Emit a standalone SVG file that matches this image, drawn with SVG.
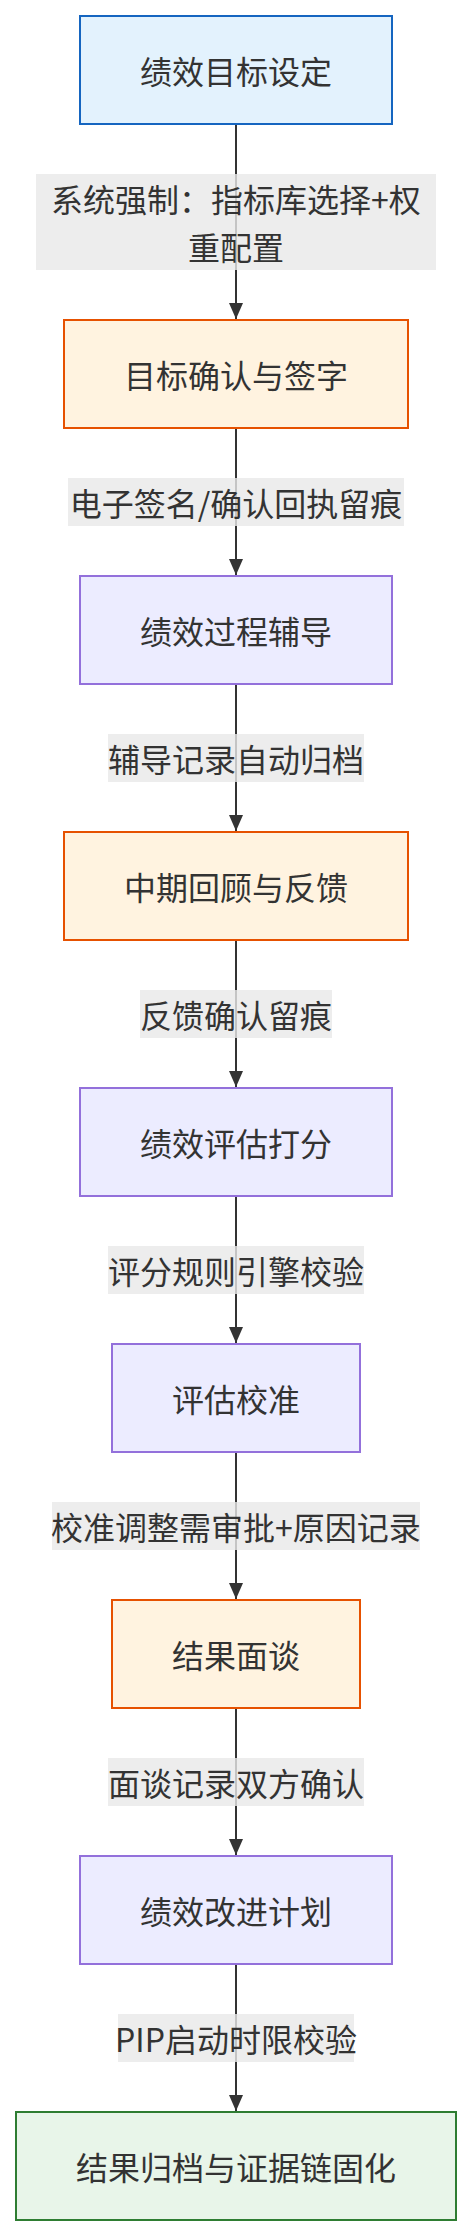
<svg xmlns="http://www.w3.org/2000/svg" width="472" height="2236" viewBox="0 0 472 2236">
<style>
text{font-family:"Noto Sans CJK SC","Liberation Sans",sans-serif;font-size:32px;fill:#333;text-anchor:middle;dominant-baseline:central}
.blue{fill:#e3f2fd;stroke:#1565c0;stroke-width:2}
.orange{fill:#fff3e0;stroke:#e65100;stroke-width:2}
.purple{fill:#ececff;stroke:#9370db;stroke-width:2}
.green{fill:#e8f5e9;stroke:#2e7d32;stroke-width:2}
.edge{stroke:#333;stroke-width:2;fill:none}
.lbl{fill:#e8e8e8;fill-opacity:0.8}
</style>
<defs>
<marker id="arr" viewBox="0 0 16 14" refX="16" refY="7" markerWidth="16" markerHeight="14" markerUnits="userSpaceOnUse" orient="auto">
<path d="M0,0 L16,7 L0,14 z" fill="#333"/>
</marker>
</defs>
<g id="connectors">
<path class="edge" d="M236,124 V319" marker-end="url(#arr)"/>
<path class="edge" d="M236,428 V575" marker-end="url(#arr)"/>
<path class="edge" d="M236,684 V831" marker-end="url(#arr)"/>
<path class="edge" d="M236,940 V1087" marker-end="url(#arr)"/>
<path class="edge" d="M236,1196 V1343" marker-end="url(#arr)"/>
<path class="edge" d="M236,1452 V1599" marker-end="url(#arr)"/>
<path class="edge" d="M236,1708 V1855" marker-end="url(#arr)"/>
<path class="edge" d="M236,1964 V2111" marker-end="url(#arr)"/>
<rect class="lbl" x="36" y="174" width="400" height="96"/>
<text x="236" y="198">系统强制：指标库选择+权</text>
<text x="236" y="246">重配置</text>
<rect class="lbl" x="68" y="478" width="336" height="48"/>
<text x="236" y="502">电子签名/确认回执留痕</text>
<rect class="lbl" x="108" y="734" width="256" height="48"/>
<text x="236" y="758">辅导记录自动归档</text>
<rect class="lbl" x="140" y="990" width="192" height="48"/>
<text x="236" y="1014">反馈确认留痕</text>
<rect class="lbl" x="108" y="1246" width="256" height="48"/>
<text x="236" y="1270">评分规则引擎校验</text>
<rect class="lbl" x="52" y="1502" width="368" height="48"/>
<text x="236" y="1526">校准调整需审批+原因记录</text>
<rect class="lbl" x="108" y="1758" width="256" height="48"/>
<text x="236" y="1782">面谈记录双方确认</text>
<rect class="lbl" x="118" y="2014" width="236" height="48"/>
<text x="236" y="2038">PIP启动时限校验</text>
</g>
<g id="n1"><rect class="blue" x="80" y="16" width="312" height="108"/><text x="236" y="70">绩效目标设定</text></g>
<g id="n2"><rect class="orange" x="64" y="320" width="344" height="108"/><text x="236" y="374">目标确认与签字</text></g>
<g id="n3"><rect class="purple" x="80" y="576" width="312" height="108"/><text x="236" y="630">绩效过程辅导</text></g>
<g id="n4"><rect class="orange" x="64" y="832" width="344" height="108"/><text x="236" y="886">中期回顾与反馈</text></g>
<g id="n5"><rect class="purple" x="80" y="1088" width="312" height="108"/><text x="236" y="1142">绩效评估打分</text></g>
<g id="n6"><rect class="purple" x="112" y="1344" width="248" height="108"/><text x="236" y="1398">评估校准</text></g>
<g id="n7"><rect class="orange" x="112" y="1600" width="248" height="108"/><text x="236" y="1654">结果面谈</text></g>
<g id="n8"><rect class="purple" x="80" y="1856" width="312" height="108"/><text x="236" y="1910">绩效改进计划</text></g>
<g id="n9"><rect class="green" x="16" y="2112" width="440" height="108"/><text x="236" y="2166">结果归档与证据链固化</text></g>
</svg>
